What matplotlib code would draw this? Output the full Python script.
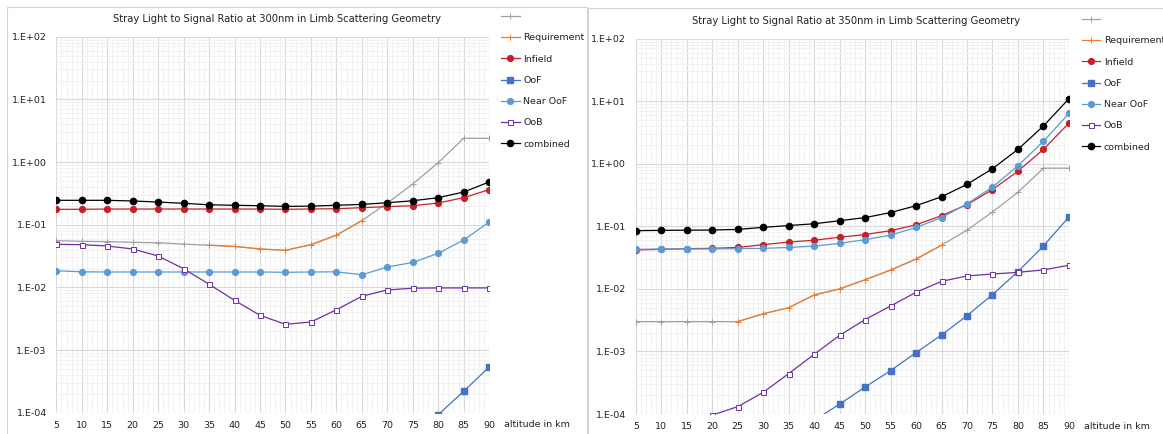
import numpy as np
import matplotlib

matplotlib.use("Agg")

import matplotlib.pyplot as plt
from matplotlib.patches import Rectangle
from matplotlib.ticker import FixedLocator, FuncFormatter, NullFormatter

nan = np.nan

altitude = [5, 10, 15, 20, 25, 30, 35, 40, 45, 50, 55, 60, 65, 70, 75, 80, 85, 90]

# 300 nm
limit_300 = [0.0556, 0.0543, 0.0537, 0.0523, 0.0516, 0.049, 0.047, 0.045, 0.041,
             0.039, 0.048, 0.068, 0.116, 0.222, 0.446, 0.976, 2.39, 2.39]
req_alt_300 = [35, 40, 45, 50, 55, 60, 65]
infield_300 = [0.176, 0.176, 0.178, 0.178, 0.178, 0.178, 0.178, 0.178, 0.178,
               0.176, 0.178, 0.18, 0.187, 0.194, 0.201, 0.222, 0.27, 0.362]
oof_300 = [nan, nan, nan, nan, nan, nan, nan, nan, nan,
           nan, nan, nan, nan, nan, nan, 9.3e-5, 2.19e-4, 5.36e-4]
near_oof_300 = [0.0184, 0.0177, 0.0176, 0.0176, 0.0176, 0.0176, 0.0176, 0.0176, 0.0176,
                0.0174, 0.0176, 0.0177, 0.0159, 0.0211, 0.025, 0.0349, 0.0571, 0.110]
oob_300 = [0.0486, 0.048, 0.0457, 0.041, 0.0316, 0.0198, 0.0112, 0.0062, 0.00358,
           0.00257, 0.0028, 0.00439, 0.0072, 0.0091, 0.0097, 0.0098, 0.0098, 0.0098]
combined_300 = [0.245, 0.245, 0.245, 0.239, 0.23, 0.219, 0.208, 0.204, 0.201,
                0.196, 0.198, 0.204, 0.211, 0.224, 0.241, 0.27, 0.332, 0.48]

# 350 nm
limit_350 = [0.003, 0.003, 0.003, 0.003, 0.003, 0.004, 0.005, 0.008, 0.01,
             0.014, 0.02, 0.03, 0.05, 0.087, 0.17, 0.35, 0.85, 0.85]
req_alt_350 = [25, 30, 35, 40, 45, 50, 55, 60, 65]
infield_350 = [0.0419, 0.0429, 0.044, 0.0445, 0.046, 0.0509, 0.0562, 0.0599, 0.0669,
               0.074, 0.0853, 0.106, 0.148, 0.222, 0.388, 0.762, 1.70, 4.47]
oof_350 = [nan, nan, nan, nan, nan, nan, nan, 7.9e-5, 1.44e-4,
           2.7e-4, 4.93e-4, 9.6e-4, 1.83e-3, 3.73e-3, 8.09e-3, 0.0189, 0.0485, 0.141]
near_oof_350 = [0.0429, 0.0435, 0.0435, 0.0435, 0.044, 0.0445, 0.046, 0.0483, 0.0535,
                0.0612, 0.0724, 0.096, 0.138, 0.229, 0.424, 0.93, 2.29, 6.38]
oob_350 = [nan, nan, nan, 9.6e-5, 1.31e-4, 2.22e-4, 4.41e-4, 9.0e-4, 1.81e-3,
           3.23e-3, 5.33e-3, 8.82e-3, 0.0132, 0.0161, 0.0173, 0.0184, 0.0201, 0.0239]
combined_350 = [0.0853, 0.0862, 0.0868, 0.0872, 0.0893, 0.0964, 0.103, 0.11, 0.123,
                0.138, 0.166, 0.214, 0.297, 0.469, 0.835, 1.70, 4.02, 10.97]

legend_labels = ["", "Requirement", "Infield", "OoF", "Near OoF", "OoB", "combined"]
decades = [1e-4, 1e-3, 1e-2, 1e-1, 1e0, 1e1, 1e2]

GRAY = "#a0a0a0"
ORANGE = "#ed7d31"
RED = "#c8202a"
BLUE = "#4472c4"
LIGHT_BLUE = "#5b9bd5"
PURPLE = "#7030a0"
BLACK = "#000000"

plt.rcParams["font.family"] = ["DejaVu Sans"]
FS = 6.8
W, H = 1163, 434

fig = plt.figure(figsize=(W / 100, H / 100), dpi=100)

# panel frames
fig.add_artist(Rectangle((6.7 / W, -0.05), (586.7 - 6.7) / W, 1.05 - 7.3 / H,
                         transform=fig.transFigure, fill=False,
                         edgecolor="#d4d4d4", linewidth=0.8))
fig.add_artist(Rectangle((587.8 / W, -0.05), 0.6, 1.05 - 8.3 / H,
                         transform=fig.transFigure, fill=False,
                         edgecolor="#d4d4d4", linewidth=0.8))


def sci_label(v, pos):
    exp = int(round(np.log10(v)))
    return f"1.E{exp:+03d}"


def draw_panel(rect, title, limit, req_alt, infield, oof, near_oof, oob, combined, legend_xy):
    ax = fig.add_axes(rect)
    ax.set_yscale("log")
    ax.set_xlim(5, 90)
    ax.set_ylim(1e-4, 1e2)

    req_vals = [limit[altitude.index(a)] for a in req_alt]

    h_lim, = ax.plot(altitude, limit, color=GRAY, lw=0.9, marker="+", ms=4.5, mew=0.7, zorder=3)
    h_req, = ax.plot(req_alt, req_vals, color=ORANGE, lw=0.9, marker="+", ms=4.5, mew=0.7, zorder=4)
    h_inf, = ax.plot(altitude, infield, color=RED, lw=0.9, marker="o", ms=4.2, zorder=5)
    h_oof, = ax.plot(altitude, oof, color=BLUE, lw=0.9, marker="s", ms=4.2, zorder=5)
    h_near, = ax.plot(altitude, near_oof, color=LIGHT_BLUE, lw=0.9, marker="o", ms=4.2, zorder=5)
    h_oob, = ax.plot(altitude, oob, color=PURPLE, lw=0.9, marker="s", ms=3.6,
                     mfc="white", mec=PURPLE, mew=0.7, zorder=5)
    h_comb, = ax.plot(altitude, combined, color=BLACK, lw=0.9, marker="o", ms=4.5, zorder=6)

    minor_y = [d * k for d in decades[:-1] for k in range(2, 10)]
    ax.xaxis.set_major_locator(FixedLocator(altitude))
    ax.xaxis.set_minor_locator(FixedLocator(np.arange(5, 91, 1)))
    ax.yaxis.set_major_locator(FixedLocator(decades))
    ax.yaxis.set_minor_locator(FixedLocator(minor_y))
    ax.yaxis.set_major_formatter(FuncFormatter(sci_label))
    ax.yaxis.set_minor_formatter(NullFormatter())

    ax.grid(which="major", color="#d9d9d9", lw=0.8)
    ax.grid(which="minor", color="#f0f0f0", lw=0.6)
    ax.set_axisbelow(True)
    for s in ax.spines.values():
        s.set_visible(False)

    ax.tick_params(which="both", length=0, labelsize=FS, colors="#222222")
    ax.tick_params(axis="y", pad=7)
    ax.tick_params(axis="x", pad=6)

    ax.text(0.509, 1 + 17.4 / 376, title, transform=ax.transAxes,
            ha="center", va="center", fontsize=FS + 0.4, color="#222222")
    ax.text(1.034, -0.032, "altitude in km", transform=ax.transAxes,
            ha="left", va="center", fontsize=FS, color="#222222")

    handles = [h_lim, h_req, h_inf, h_oof, h_near, h_oob, h_comb]
    ax.legend(handles, legend_labels, loc="upper left",
              bbox_to_anchor=(legend_xy[0] / W, 1 - legend_xy[1] / H),
              bbox_transform=fig.transFigure, frameon=False, fontsize=FS,
              handlelength=2.0, handletextpad=0.35, labelspacing=1.3,
              borderpad=0, borderaxespad=0, labelcolor="#222222")
    return ax


draw_panel([56.4 / W, (H - 412.7) / H, (489.1 - 56.4) / W, (412.7 - 36.7) / H],
           "Stray Light to Signal Ratio at 300nm in Limb Scattering Geometry",
           limit_300, req_alt_300, infield_300, oof_300, near_oof_300, oob_300, combined_300,
           (501, 12.0))

draw_panel([635.8 / W, (H - 414.0) / H, (1068.9 - 635.8) / W, (414.0 - 38.7) / H],
           "Stray Light to Signal Ratio at 350nm in Limb Scattering Geometry",
           limit_350, req_alt_350, infield_350, oof_350, near_oof_350, oob_350, combined_350,
           (1081.5, 15.0))

fig.savefig("out.png", dpi=100)
